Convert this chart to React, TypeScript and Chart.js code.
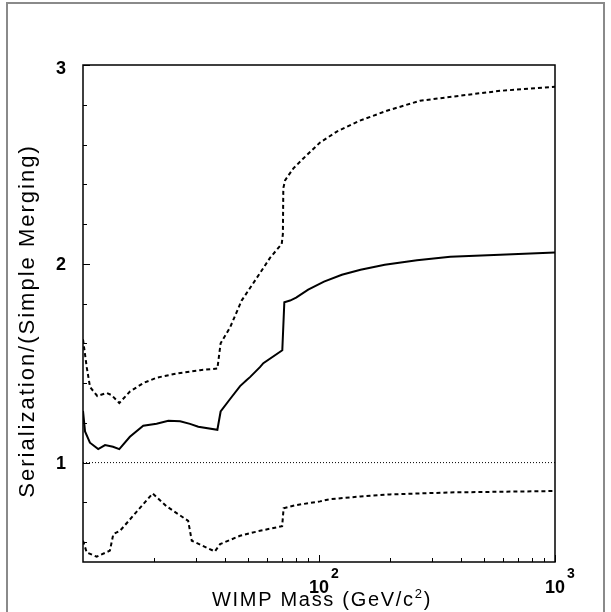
import React, { useEffect, useRef } from "react";
import { Chart, registerables } from "chart.js";

Chart.register(...registerables);

// ---- data (WIMP mass in GeV/c^2, ratio) ----
const centralMass = [10.0, 10.2, 10.7, 11.6, 12.4, 13.4, 14.25, 15.8, 18.0, 20.5, 23.0, 25.8, 28.4, 30.8, 37.1, 38.3, 42.0, 46.3, 49.4, 51.0, 56.2, 58.1, 69.9, 71.3, 75.4, 80, 90, 105, 125, 150, 190, 260, 360, 585, 1000];
const centralRatio = [1.26, 1.157, 1.1, 1.068, 1.088, 1.08, 1.068, 1.13, 1.185, 1.195, 1.21, 1.208, 1.195, 1.18, 1.165, 1.257, 1.32, 1.385, 1.415, 1.43, 1.48, 1.5, 1.565, 1.807, 1.815, 1.83, 1.87, 1.91, 1.945, 1.97, 1.995, 2.018, 2.035, 2.045, 2.057];

const upperMass = [10.0, 10.37, 10.71, 11.5, 12.6, 13.2, 14.25, 15.8, 18.0, 20.5, 24.9, 31.3, 37.1, 38.3, 42.0, 47.0, 56.0, 62.0, 69.5, 70.3, 70.6, 71.8, 77.9, 85.8, 101, 119, 149, 194, 268, 423, 585, 1000];
const upperRatio = [1.62, 1.48, 1.38, 1.335, 1.35, 1.34, 1.3, 1.357, 1.4, 1.427, 1.448, 1.465, 1.473, 1.6, 1.68, 1.815, 1.95, 2.03, 2.1, 2.15, 2.38, 2.42, 2.48, 2.53, 2.61, 2.665, 2.72, 2.77, 2.82, 2.85, 2.87, 2.89];

const lowerMass = [10.0, 10.37, 11.43, 13.0, 13.44, 14.35, 19.74, 22.6, 27.9, 28.9, 36.2, 38.1, 46.3, 56.2, 69.8, 70.8, 79, 101, 110, 150, 200, 360, 1000];
const lowerRatio = [0.607, 0.548, 0.527, 0.557, 0.64, 0.657, 0.845, 0.78, 0.707, 0.607, 0.553, 0.59, 0.632, 0.657, 0.68, 0.77, 0.785, 0.805, 0.815, 0.83, 0.84, 0.85, 0.857];

const referenceMass = [10, 1000];
const referenceRatio = [1, 1];

// ---- axes ----
const xMin = 10;
const xMax = 1000;
const yMin = 0.5;
const yMax = 3;
const xMajorTicks = [100, 1000];
const xTickBases = ["10", "10"];
const xTickExponents = ["2", "3"];
const xMinorTicks = [20, 30, 40, 50, 60, 70, 80, 90, 200, 300, 400, 500, 600, 700, 800, 900];
const yMajorTicks = [1, 2, 3];
const yTickLabels = ["1", "2", "3"];
const yMinorTicks = [0.6, 0.8, 1.2, 1.4, 1.6, 1.8, 2.2, 2.4, 2.6, 2.8];
const xTitleMain = "WIMP Mass (GeV/c";
const xTitleSup = "2";
const xTitleEnd = ")";
const yTitle = "Serialization/(Simple Merging)";

const toPoints = (xs: number[], ys: number[]) => xs.map((x, i) => ({ x, y: ys[i] }));

const axesPlugin = {
  id: "rootAxes",
  afterDraw(chart: any) {
    const ctx = chart.ctx as CanvasRenderingContext2D;
    const { left, right, top, bottom } = chart.chartArea;
    const xs = chart.scales.x;
    const ys = chart.scales.y;
    ctx.save();

    // outer canvas border
    ctx.strokeStyle = "#8a8a8a";
    ctx.lineWidth = 2;
    ctx.strokeRect(7, 3, 597, 700);

    // frame
    ctx.strokeStyle = "#000";
    ctx.lineWidth = 1.5;
    ctx.strokeRect(left, top, right - left, bottom - top);

    // x ticks
    ctx.lineWidth = 1;
    ctx.beginPath();
    for (const v of xMinorTicks) {
      const px = Math.round(xs.getPixelForValue(v)) + 0.5;
      ctx.moveTo(px, bottom);
      ctx.lineTo(px, bottom - 4);
    }
    for (const v of xMajorTicks) {
      const px = Math.round(xs.getPixelForValue(v)) + 0.5;
      ctx.moveTo(px, bottom);
      ctx.lineTo(px, bottom - 7);
    }
    // y ticks
    for (const v of yMinorTicks) {
      const py = Math.round(ys.getPixelForValue(v)) + 0.5;
      ctx.moveTo(left, py);
      ctx.lineTo(left + 4, py);
    }
    for (const v of yMajorTicks) {
      const py = Math.round(ys.getPixelForValue(v)) + 0.5;
      ctx.moveTo(left, py);
      ctx.lineTo(left + 7, py);
    }
    ctx.stroke();

    ctx.fillStyle = "#000";
    // x tick labels
    xMajorTicks.forEach((v, i) => {
      const px = xs.getPixelForValue(v);
      ctx.font = "bold 18px 'Liberation Sans', Arial, sans-serif";
      ctx.textAlign = "center";
      ctx.textBaseline = "alphabetic";
      ctx.fillText(xTickBases[i], px, bottom + 31);
      ctx.font = "bold 14px 'Liberation Sans', Arial, sans-serif";
      ctx.textAlign = "left";
      ctx.fillText(xTickExponents[i], px + 12, bottom + 16);
    });

    // y tick labels
    ctx.font = "bold 18px 'Liberation Sans', Arial, sans-serif";
    ctx.textAlign = "right";
    ctx.textBaseline = "middle";
    yMajorTicks.forEach((v, i) => {
      const py = Math.max(ys.getPixelForValue(v), top + 3);
      ctx.fillText(yTickLabels[i], 66, py + 1);
    });

    // x title
    ctx.font = "20px 'Liberation Sans', Arial, sans-serif";
    (ctx as any).letterSpacing = "1.7px";
    ctx.textBaseline = "alphabetic";
    ctx.textAlign = "left";
    const wMain = ctx.measureText(xTitleMain).width;
    ctx.font = "13px 'Liberation Sans', Arial, sans-serif";
    const wSup = ctx.measureText(xTitleSup).width;
    ctx.font = "20px 'Liberation Sans', Arial, sans-serif";
    const wEnd = ctx.measureText(xTitleEnd).width;
    const total = wMain + wSup + wEnd;
    let tx = (left + right) / 2 + 3 - total / 2;
    const ty = 606;
    ctx.fillText(xTitleMain, tx, ty);
    tx += wMain;
    ctx.font = "13px 'Liberation Sans', Arial, sans-serif";
    ctx.fillText(xTitleSup, tx, ty - 8);
    tx += wSup;
    ctx.font = "20px 'Liberation Sans', Arial, sans-serif";
    ctx.fillText(xTitleEnd, tx, ty);

    // y title
    ctx.save();
    ctx.translate(28, 321);
    ctx.rotate(-Math.PI / 2);
    ctx.font = "22px 'Liberation Sans', Arial, sans-serif";
    (ctx as any).letterSpacing = "2px";
    ctx.textAlign = "center";
    ctx.textBaseline = "middle";
    ctx.fillText(yTitle, 0, 0);
    ctx.restore();

    ctx.restore();
  },
};

export default function App() {
  const canvasRef = useRef<HTMLCanvasElement | null>(null);

  useEffect(() => {
    if (!canvasRef.current) return;
    const chart = new Chart(canvasRef.current, {
      type: "line",
      data: {
        datasets: [
          {
            label: "reference",
            data: toPoints(referenceMass, referenceRatio),
            borderColor: "#000",
            borderWidth: 1,
            borderDash: [1, 2],
            pointRadius: 0,
            tension: 0,
          },
          {
            label: "upper",
            data: toPoints(upperMass, upperRatio),
            borderColor: "#000",
            borderWidth: 2,
            borderDash: [4, 3],
            pointRadius: 0,
            tension: 0,
          },
          {
            label: "central",
            data: toPoints(centralMass, centralRatio),
            borderColor: "#000",
            borderWidth: 2,
            pointRadius: 0,
            tension: 0,
          },
          {
            label: "lower",
            data: toPoints(lowerMass, lowerRatio),
            borderColor: "#000",
            borderWidth: 2,
            borderDash: [4, 3],
            pointRadius: 0,
            tension: 0,
          },
        ],
      },
      options: {
        responsive: false,
        animation: false,
        layout: { padding: { left: 83, right: 56, top: 65, bottom: 50 } },
        scales: {
          x: { type: "logarithmic", min: xMin, max: xMax, display: false },
          y: { type: "linear", min: yMin, max: yMax, display: false },
        },
        plugins: {
          legend: { display: false },
          tooltip: { enabled: false },
          title: { display: false },
        },
      },
      plugins: [axesPlugin],
    });
    return () => chart.destroy();
  }, []);

  return (
    <div style={{ position: "fixed", left: 0, top: 0, width: 611, height: 612, background: "#fff" }}>
      <canvas ref={canvasRef} width={611} height={612} style={{ display: "block" }} />
    </div>
  );
}
